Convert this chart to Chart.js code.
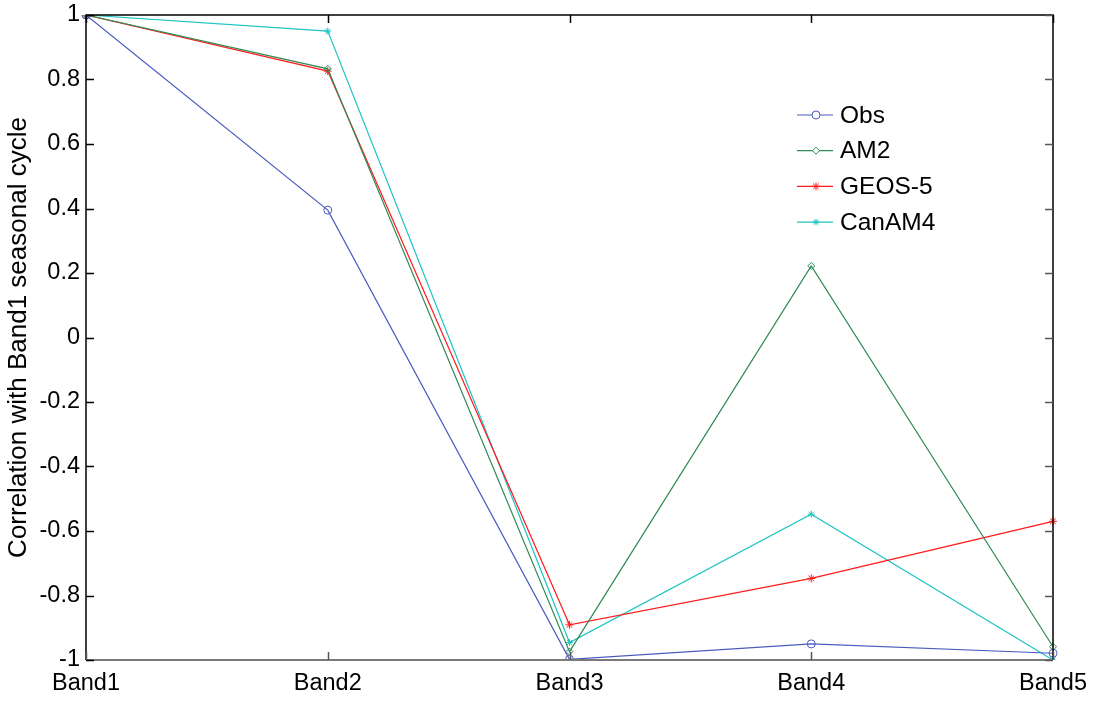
<!DOCTYPE html>
<html>
<head>
<meta charset="utf-8">
<script src="https://cdn.jsdelivr.net/npm/chart.js@4/dist/chart.umd.min.js"></script>
<style>
html,body{margin:0;padding:0;background:#fff;}
#wrap{width:1098px;height:702px;position:relative;}
</style>
</head>
<body>
<div id="wrap"><canvas id="c" width="1098" height="702"></canvas></div>
<script>
const categories = ["Band1", "Band2", "Band3", "Band4", "Band5"];
const obs     = [1.0, 0.395, -0.998, -0.950, -0.979];
const am2     = [1.0, 0.833, -0.974,  0.222, -0.959];
const geos5   = [1.0, 0.826, -0.891, -0.747, -0.570];
const canam4  = [1.0, 0.950, -0.946, -0.548, -1.000];
const seriesNames = ["Obs", "AM2", "GEOS-5", "CanAM4"];
const yTitle = "Correlation with Band1 seasonal cycle";

const FONT = "'Liberation Sans', Arial, Helvetica, sans-serif";

function ds(label, data, color, style, r) {
  return {
    label: label, data: data, borderColor: color, backgroundColor: 'rgba(0,0,0,0)',
    borderWidth: 1.2, pointStyle: style, pointRadius: r, pointBorderColor: color,
    pointBackgroundColor: 'rgba(0,0,0,0)', pointBorderWidth: 1, tension: 0, fill: false
  };
}

const frame = {
  id: 'frame',
  afterDraw(chart) {
    const ctx = chart.ctx, a = chart.chartArea;
    const xs = chart.scales.x, ys = chart.scales.y;
    ctx.save();
    // box
    ctx.lineWidth = 1.5;
    ctx.strokeStyle = '#000';
    ctx.beginPath();
    ctx.moveTo(a.left, a.bottom); ctx.lineTo(a.left, a.top); ctx.lineTo(a.right, a.top); ctx.lineTo(a.right, a.bottom);
    ctx.stroke();
    ctx.strokeStyle = '#7a7a7a';
    ctx.lineWidth = 2;
    ctx.beginPath(); ctx.moveTo(a.left, a.bottom); ctx.lineTo(a.right, a.bottom); ctx.stroke();
    // inward ticks
    ctx.lineWidth = 1.5;
    const L = 8;
    ys.ticks.forEach(t => {
      const y = Math.round(ys.getPixelForValue(t.value)) + 0.5;
      ctx.strokeStyle = '#000';
      ctx.beginPath(); ctx.moveTo(a.left, y); ctx.lineTo(a.left + L, y); ctx.stroke();
      ctx.strokeStyle = '#555';
      ctx.beginPath(); ctx.moveTo(a.right, y); ctx.lineTo(a.right - L, y); ctx.stroke();
    });
    categories.forEach((c, i) => {
      const x = Math.round(xs.getPixelForValue(i)) + 0.5;
      ctx.strokeStyle = '#000';
      ctx.beginPath(); ctx.moveTo(x, a.top); ctx.lineTo(x, a.top + L); ctx.stroke();
      ctx.strokeStyle = '#555';
      ctx.beginPath(); ctx.moveTo(x, a.bottom); ctx.lineTo(x, a.bottom - L); ctx.stroke();
    });
    // legend
    const lx = 797, ly = 115, gap = 35.7;
    chart.data.datasets.forEach((d, i) => {
      const y = ly + i * gap;
      ctx.strokeStyle = d.borderColor;
      ctx.lineWidth = 1.2;
      ctx.beginPath(); ctx.moveTo(lx, y); ctx.lineTo(lx + 36, y); ctx.stroke();
      ctx.fillStyle = '#ffffff';
      ctx.strokeStyle = d.borderColor;
      ctx.lineWidth = 1;
      Chart.helpers.drawPoint(ctx, {pointStyle: d.pointStyle, radius: d.pointRadius, rotation: 0, borderWidth: 1}, lx + 19, y);
      ctx.fillStyle = '#000';
      ctx.font = "24.5px " + FONT;
      ctx.textBaseline = 'middle';
      ctx.textAlign = 'left';
      ctx.fillText(d.label, lx + 43, y + 1);
    });
    ctx.restore();
  }
};

new Chart(document.getElementById('c'), {
  type: 'line',
  data: {
    labels: categories,
    datasets: [
      ds(seriesNames[0], obs, '#4b5cbf', 'circle', 4),
      ds(seriesNames[1], am2, '#2f8a55', 'rectRot', 3.5),
      ds(seriesNames[2], geos5, '#ff1a1a', 'star', 4),
      ds(seriesNames[3], canam4, '#20c4c4', 'star', 3.5)
    ]
  },
  options: {
    responsive: false,
    animation: false,
    devicePixelRatio: 1,
    layout: { padding: { top: 15, right: 45, left: 0, bottom: 0 } },
    plugins: { legend: { display: false }, tooltip: { enabled: false } },
    scales: {
      x: {
        type: 'category',
        offset: false,
        grid: { display: false, drawTicks: false },
        border: { display: false },
        ticks: { color: '#000', font: { family: FONT, size: 23.5 }, padding: 9, maxRotation: 0, autoSkip: false },
        afterFit(s) { s.height = 42; }
      },
      y: {
        min: -1, max: 1,
        grid: { display: false, drawTicks: false },
        border: { display: false },
        ticks: {
          stepSize: 0.2, color: '#000', font: { family: FONT, size: 23.5 }, padding: 6,
          callback: v => String(Number(v.toFixed(1)))
        },
        title: { display: true, text: yTitle, color: '#000', font: { family: FONT, size: 26 }, padding: { top: 3, bottom: 0 } },
        afterFit(s) { s.width = 86; s.paddingTop = 0; s.paddingBottom = 0; }
      }
    }
  },
  plugins: [frame]
});
</script>
</body>
</html>
